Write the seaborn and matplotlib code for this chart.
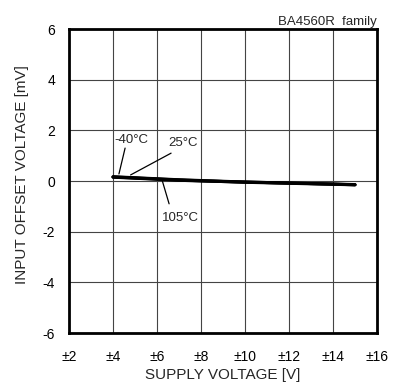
import numpy as np
import pandas as pd
import matplotlib
matplotlib.use("Agg")
import matplotlib.pyplot as plt
import seaborn as sns

# supply voltage (±V) and input offset voltage (mV) per temperature
supply_v = [4, 5, 6, 7, 8, 9, 10, 11, 12, 13, 14, 15]
vio_m40 = [0.17, 0.13, 0.09, 0.05, 0.02, -0.01, -0.04, -0.06, -0.08, -0.10, -0.12, -0.14]
vio_25 = [0.16, 0.12, 0.08, 0.04, 0.01, -0.02, -0.04, -0.06, -0.08, -0.10, -0.12, -0.15]
vio_105 = [0.15, 0.11, 0.07, 0.03, 0.00, -0.02, -0.05, -0.07, -0.09, -0.11, -0.13, -0.15]
temps = ["-40°C", "25°C", "105°C"]
x_ticks = [2, 4, 6, 8, 10, 12, 14, 16]
y_ticks = [-6, -4, -2, 0, 2, 4, 6]

df = pd.DataFrame({
    "vcc": supply_v * 3,
    "vio": vio_m40 + vio_25 + vio_105,
    "temp": [t for t in temps for _ in supply_v],
})

sns.set_theme(style="white")
plt.rcParams["font.family"] = ["Liberation Sans", "DejaVu Sans"]

fig = plt.figure(figsize=(4.0, 3.87), dpi=100)
ax = fig.add_axes([0.1725, 0.1395, 0.77, 0.7855])

sns.lineplot(data=df, x="vcc", y="vio", hue="temp", palette=["black"] * 3,
             linewidth=2.2, legend=False, ax=ax)

ax.set_xlim(2, 16)
ax.set_ylim(-6, 6)
ax.set_xticks(x_ticks)
ax.set_xticklabels([f"±{v}" for v in x_ticks])
ax.set_yticks(y_ticks)
ax.set_yticklabels([str(v) for v in y_ticks])
ax.grid(True, color="#444444", linewidth=0.8)
ax.tick_params(axis="both", direction="in", length=4, labelsize=10, colors="black")
ax.tick_params(axis="x", pad=12)
ax.tick_params(axis="y", pad=10)
for sp in ax.spines.values():
    sp.set_linewidth(2)
    sp.set_color("black")

ax.set_xlabel("SUPPLY VOLTAGE [V]", fontsize=11, labelpad=3)
ax.set_ylabel("INPUT OFFSET VOLTAGE [mV]", fontsize=11, labelpad=6)
ax.yaxis.set_label_coords(-0.13, 0.52)
ax.set_title("BA4560R  family", fontsize=9.5, loc="right", pad=3)

# temperature callouts: text, then leader line to the curve
callouts = [
    ("-40°C", (4.82, 1.62), (4.55, 1.30), (4.27, 0.28)),
    ("25°C", (7.18, 1.50), (6.64, 1.10), (4.80, 0.24)),
    ("105°C", (7.05, -1.46), (6.55, -0.90), (6.23, 0.04)),
]
for label, txt_xy, start, end in callouts:
    ax.text(*txt_xy, label, fontsize=9.5, ha="center", va="center")
    ax.annotate("", xy=end, xytext=start,
                arrowprops=dict(arrowstyle="-", color="black", lw=0.9, shrinkA=0, shrinkB=0))

fig.savefig("out.png", dpi=100)
